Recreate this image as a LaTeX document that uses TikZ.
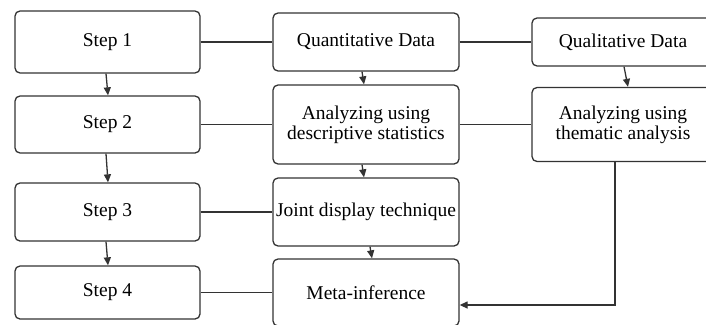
\documentclass[tikz,border=0pt]{standalone}
\usepackage{fontspec}
\setmainfont{Liberation Serif}
\newfontfamily\tnr{Liberation Serif}
\usetikzlibrary{arrows.meta}
\definecolor{linec}{HTML}{333333}
\tikzset{
  box/.style={draw=linec, line width=1.3pt, rounded corners=5pt, inner sep=0pt, align=center,
    font=\tnr\fontsize{19.5}{20}\selectfont, text=black},
  conn/.style={draw=linec, line width=1.3pt},
  arr/.style={conn, -{Triangle[length=8pt,width=7pt]}}
}
\begin{document}
\begin{tikzpicture}[x=1pt,y=-1pt]
\useasboundingbox (0,0) rectangle (706,324);
\clip (0,0) rectangle (706,324);
% left column
\node[box, minimum width=185pt, minimum height=62pt] (s1) at (107.5,42) {Step 1};
\node[box, minimum width=185pt, minimum height=57pt] (s2) at (107.5,124.5) {Step 2};
\node[box, minimum width=185pt, minimum height=58pt] (s3) at (107.5,212) {Step 3};
\node[box, minimum width=185pt, minimum height=53pt] (s4) at (107.5,292.5) {Step 4};
% middle column
\node[box, minimum width=186pt, minimum height=58pt] (qn) at (366,42) {Quantitative Data};
\node[box, minimum width=186pt, minimum height=79pt] (ds) at (366,124.5) {Analyzing using\\descriptive statistics};
\node[box, minimum width=186pt, minimum height=68pt] (jd) at (366,212) {Joint display technique};
\node[box, minimum width=186pt, minimum height=67pt] (mi) at (366,292.5) {Meta-inference};
% right column
\node[box, minimum width=182pt, minimum height=48pt] (ql) at (623,42) {Qualitative Data};
\node[box, minimum width=182pt, minimum height=74pt] (th) at (623,124.5) {Analyzing using\\thematic analysis};
% horizontal links
\draw[conn] (s1.east) -- (qn.west);
\draw[conn] (qn.east) -- (ql.west);
\draw[conn] (s2.east) -- (ds.west);
\draw[conn] (ds.east) -- (th.west);
\draw[conn] (s3.east) -- (jd.west);
\draw[conn] (s4.east) -- (mi.west);
% arrows
\draw[arr] ([xshift=-1.5pt]s1.south) -- ([xshift=0.5pt]s2.north);
\draw[arr] ([xshift=-1.5pt]s2.south) -- ([xshift=0.5pt]s3.north);
\draw[arr] ([xshift=-1.5pt]s3.south) -- ([xshift=0.5pt]s4.north);
\draw[arr] ([xshift=-4pt]qn.south) -- ([xshift=-2pt]ds.north);
\draw[arr] ([xshift=-4pt]ds.south) -- ([xshift=-2pt]jd.north);
\draw[arr] ([xshift=4pt]jd.south) -- ([xshift=6pt]mi.north);
\draw[arr] ([xshift=1pt]ql.south) -- ([xshift=5pt]th.north);
\draw[arr] ([xshift=-8pt]th.south) |- ([yshift=-12.5pt]mi.east);
\end{tikzpicture}
\end{document}
